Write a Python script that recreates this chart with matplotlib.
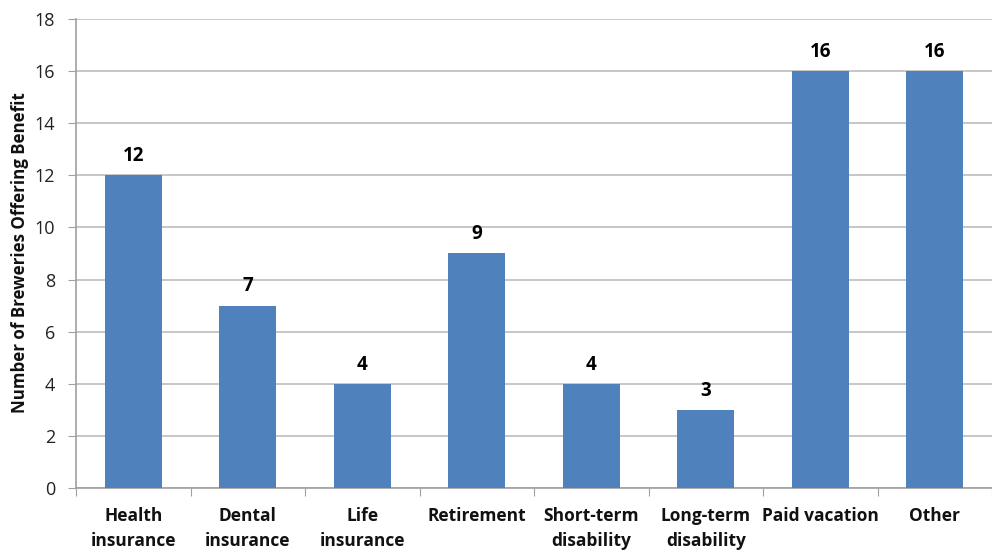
import matplotlib
matplotlib.use("Agg")
import matplotlib.pyplot as plt
import numpy as np

categories = ["Health\ninsurance", "Dental\ninsurance", "Life\ninsurance", "Retirement",
              "Short-term\ndisability", "Long-term\ndisability", "Paid vacation", "Other"]
values = [12, 7, 4, 9, 4, 3, 16, 16]
yticks = [0, 2, 4, 6, 8, 10, 12, 14, 16, 18]

plt.rcParams['font.family'] = ['Open Sans', 'DejaVu Sans']

fig = plt.figure(figsize=(9.92, 5.5), dpi=100)
W, H = 992, 550
left, right, top, bottom = 76, 992, 19, 488
ax = fig.add_axes([left / W, (H - bottom) / H, (right - left) / W, (bottom - top) / H])

x = np.arange(len(categories))
ax.bar(x, values, width=0.5, color="#4F81BD", zorder=3)
for xi, v in zip(x, values):
    ax.text(xi, v + 0.35, str(v), ha="center", va="bottom", fontsize=13.5,
            fontweight="bold", color="black")

cat_w = 115.8
ax.set_xlim(-0.5, -0.5 + (right - left) / cat_w)
ax.set_ylim(0, 18)
ax.set_yticks(yticks)
ax.set_yticklabels([str(t) for t in yticks], fontsize=13, color="#222222")
ax.yaxis.grid(True, color="#BEBEBE", linewidth=1.2, zorder=0)
ax.set_axisbelow(True)

ax.set_xticks(np.arange(len(categories) + 1) - 0.5)
ax.set_xticklabels([])
ax.set_xticks(x, minor=True)
ax.set_xticklabels(categories, minor=True, fontsize=12.5, fontweight="bold",
                   color="#111111", linespacing=1.45)
ax.tick_params(axis="x", which="minor", length=0, pad=14)
ax.tick_params(axis="x", which="major", length=6, color="#A0A0A0", direction="out")
ax.tick_params(axis="y", length=6, color="#A0A0A0", direction="out", pad=9)

for s in ["top", "right"]:
    ax.spines[s].set_visible(False)
for s in ["left", "bottom"]:
    ax.spines[s].set_color("#A0A0A0")
    ax.spines[s].set_linewidth(1.2)

fig.text(20 / W, (H - 253) / H, "Number of Breweries Offering Benefit", rotation=90,
         ha="center", va="center", fontsize=12.2, fontweight="bold", color="#111111")

fig.savefig("out.png", dpi=100)
